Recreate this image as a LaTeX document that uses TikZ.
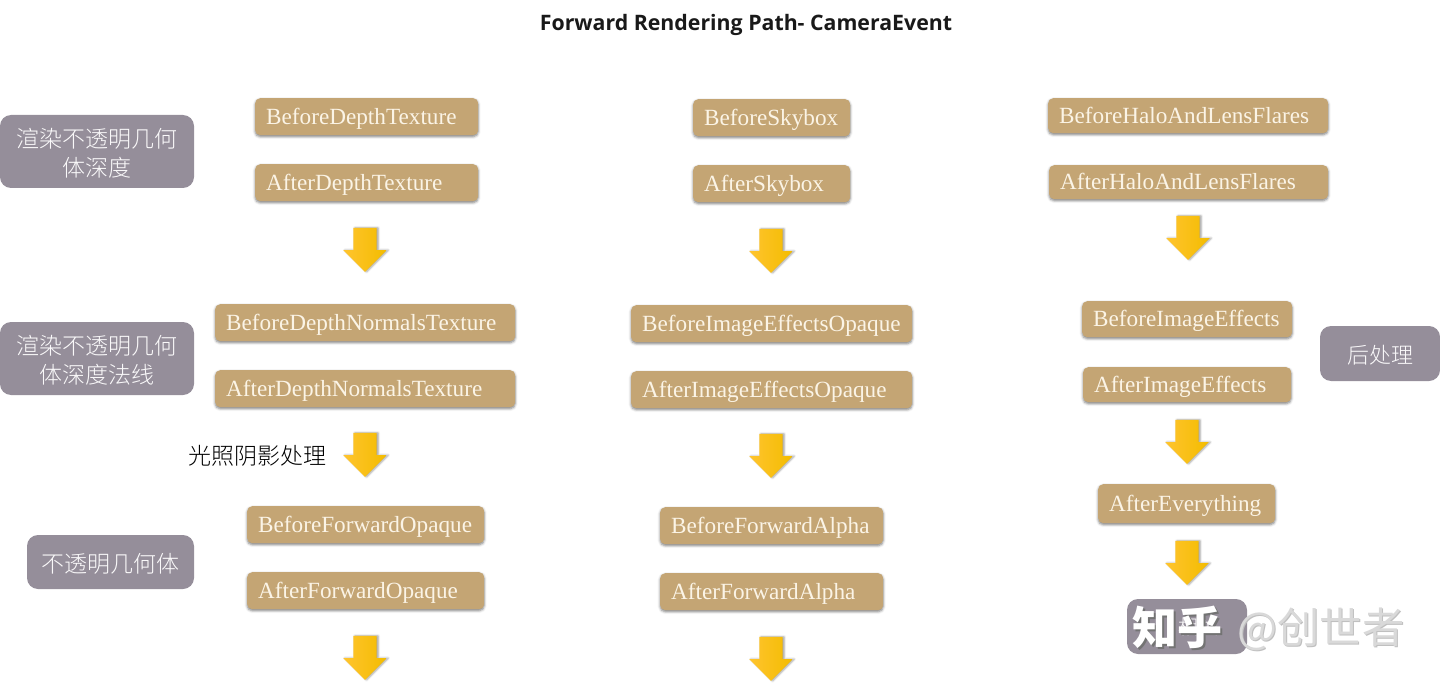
\documentclass[tikz,border=0pt]{standalone}
\usepackage{fontspec}
\setmainfont{Liberation Serif}
\newfontfamily\cjk{Noto Sans CJK SC}
\newfontfamily\cjkl{Noto Sans CJK SC Light}
\newfontfamily\titlefont{Open Sans}
\usetikzlibrary{shapes.arrows,shadows,shadows.blur}
\definecolor{tan}{HTML}{C4A574}
\definecolor{greybox}{HTML}{958E9A}
\definecolor{cream}{HTML}{FBF4E6}
\definecolor{arrtop}{HTML}{FFC42E}
\definecolor{arrbot}{HTML}{F3BC00}
\newcommand{\lowline}[1]{\raisebox{-3.4pt}[20pt][6pt]{#1}}
\tikzset{
  evt/.style={draw=none,fill=tan,rounded corners=5pt,anchor=north west,inner sep=0pt,
    text=cream,font=\fontsize{23.2}{26}\selectfont,align=left,text height=20pt,text depth=5pt,
    blur shadow={shadow xshift=0pt,shadow yshift=-1.5pt,shadow blur radius=2.5pt,shadow opacity=50}},
  grp/.style={fill=greybox,rounded corners=11pt,inner sep=0pt,text=white!95!greybox,
    font=\cjkl\fontsize{23}{28.5}\selectfont,align=center},
  darr/.style={shape=single arrow,rotate=-90,minimum height=44pt,inner xsep=0pt,inner ysep=11.5pt,outer sep=0pt,
    single arrow head extend=10pt,single arrow tip angle=90,draw=none,xshift=-6pt,
    left color=arrtop,right color=arrbot,
    blur shadow={shadow xshift=1.5pt,shadow yshift=0pt,shadow blur radius=2pt,shadow opacity=40}},
}
\newcommand{\evtbox}[6]{% name x1 y1 x2 y2 text
  \node[evt,minimum width={(#4-#2)*1pt},minimum height={(#5-#3)*1pt},text width={(#4-#2)*1pt}] (#1) at (#2,#3) {\hspace*{11pt}#6};}
\begin{document}
\begin{tikzpicture}[x=1pt,y=-1pt]
\useasboundingbox (0,0) rectangle (1440,687);
\node[font=\titlefont\bfseries\fontsize{21.3}{25}\selectfont,text=black!90] (title) at (746,25) {Forward Rendering Path- CameraEvent};
% column 1
\evtbox{a1}{255}{98}{478}{135}{BeforeDepthTexture}
\evtbox{a2}{255}{164}{478}{201}{AfterDepthTexture}
\evtbox{a3}{215}{304}{515}{341}{BeforeDepthNormalsTexture}
\evtbox{a4}{215}{370}{515}{407}{AfterDepthNormalsTexture}
\evtbox{a5}{247}{506}{484}{543}{BeforeForwardOpaque}
\evtbox{a6}{247}{572}{484}{609}{AfterForwardOpaque}
% column 2
\evtbox{b1}{693}{99}{850}{136}{BeforeSkybox}
\evtbox{b2}{693}{165}{850}{202}{AfterSkybox}
\evtbox{b3}{631}{305}{912}{342}{BeforeImageEffectsOpaque}
\evtbox{b4}{631}{371}{912}{408}{AfterImageEffectsOpaque}
\evtbox{b5}{660}{507}{883}{544}{BeforeForwardAlpha}
\evtbox{b6}{660}{573}{883}{610}{AfterForwardAlpha}
% column 3
\evtbox{c1}{1048}{98}{1328}{133}{BeforeHaloAndLensFlares}
\evtbox{c2}{1049}{165}{1328}{199}{AfterHaloAndLensFlares}
\evtbox{c3}{1082}{301}{1292}{337}{BeforeImageEffects}
\evtbox{c4}{1083}{367}{1291}{402}{AfterImageEffects}
\evtbox{c5}{1098}{484}{1275}{523}{AfterEverything}
% grey labels
\node[grp,minimum width=194pt,minimum height=73pt] (g1) at (97,151.5) {\lowline{渲染不透明几何}\\\lowline{体深度}};
\node[grp,minimum width=194pt,minimum height=73pt] (g2) at (97,358.5) {\lowline{渲染不透明几何}\\\lowline{体深度法线}};
\node[grp,minimum width=167pt,minimum height=54pt,font=\cjkl\fontsize{23}{26}\selectfont] (g3) at (110.5,562) {\lowline{不透明几何体}};
\node[grp,minimum width=120pt,minimum height=55pt,font=\cjkl\fontsize{22}{26}\selectfont] (g4) at (1380,353.5) {\lowline{后处理}};
\node[grp,minimum width=120pt,minimum height=55pt,font=\cjkl\fontsize{20}{26}\selectfont] (g5) at (1187,626.5) {\hspace*{22pt}相关};
% arrows
\node[darr] (p1) at (365,250) {};
\node[darr] (p2) at (365,455) {};
\node[darr] (p3) at (365,658) {};
\node[darr] (q1) at (771,251) {};
\node[darr] (q2) at (771,456) {};
\node[darr] (q3) at (771,659) {};
\node[darr] (r1) at (1188,238) {};
\node[darr] (r2) at (1187,442) {};
\node[darr] (r3) at (1187,563) {};
% free label
\node[font=\cjkl\fontsize{23}{28}\selectfont,text=black] (shade) at (257,456) {光照阴影处理};
% watermark
\node[font=\cjk\bfseries\fontsize{45}{50}\selectfont,text=black!55] (wm1s) at (1179.5,629.5) {知乎};
\node[font=\cjk\bfseries\fontsize{45}{50}\selectfont,text=white] (wm1) at (1177.5,627.5) {知乎};
\node[font=\cjk\fontsize{42.4}{46}\selectfont,text=black!25] (wm2s) at (1322,630.5) {@创世者};
\node[font=\cjk\fontsize{42.4}{46}\selectfont,text=white!85!black] (wm2) at (1321,629.5) {@创世者};
\end{tikzpicture}
\end{document}
